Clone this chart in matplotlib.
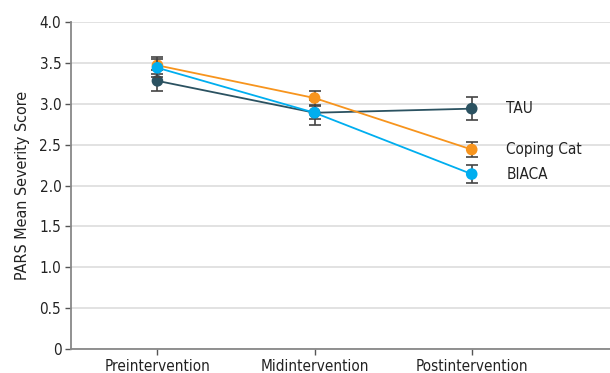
import matplotlib.pyplot as plt

# Data
timepoints = ['Preintervention', 'Midintervention', 'Postintervention']
groups = ['TAU', 'Coping Cat', 'BIACA']
tau_mean = [3.28, 2.89, 2.94]
tau_err = [0.13, 0.15, 0.14]
coping_mean = [3.47, 3.07, 2.44]
coping_err = [0.10, 0.09, 0.09]
biaca_mean = [3.44, 2.89, 2.14]
biaca_err = [0.11, 0.08, 0.11]

colors = {'TAU': '#2b5261', 'Coping Cat': '#f7941d', 'BIACA': '#00aeef'}

plt.rcParams['font.family'] = ['DejaVu Sans']
plt.rcParams['font.stretch'] = 'condensed'

fig = plt.figure(figsize=(6.10, 3.73), dpi=100)
ax = fig.add_axes([0.1164, 0.0643, 0.8836, 0.8767])

x = list(range(len(timepoints)))
series = [('TAU', tau_mean, tau_err), ('Coping Cat', coping_mean, coping_err),
          ('BIACA', biaca_mean, biaca_err)]
for z, (name, mean, err) in enumerate(series):
    ax.plot(x, mean, color=colors[name], lw=1.3, zorder=3 + z)
    ax.errorbar(x, mean, yerr=err, fmt='none', ecolor='#444444', elinewidth=1.2,
                capsize=4, capthick=1.2, zorder=3 + z)
    ax.scatter(x, mean, s=70, color=colors[name], zorder=4 + z, edgecolors='none')
    ax.text(x[-1] + 0.22, mean[-1], name, va='center', ha='left', fontsize=11,
            color='#222222')

ax.set_xlim(-0.55, 2.88)
ax.set_ylim(0, 4)
ax.set_yticks([0, 0.5, 1.0, 1.5, 2.0, 2.5, 3.0, 3.5, 4.0])
ax.set_yticklabels(['0', '0.5', '1.0', '1.5', '2.0', '2.5', '3.0', '3.5', '4.0'])
ax.set_xticks(x)
ax.set_xticklabels(timepoints)
ax.set_ylabel('PARS Mean Severity Score', fontsize=11.5, color='#222222', labelpad=7)

ax.grid(axis='y', color='#dddddd', lw=1.2)
ax.set_axisbelow(True)
for s in ['top', 'right']:
    ax.spines[s].set_visible(False)
for s in ['left', 'bottom']:
    ax.spines[s].set_color('#888888')
    ax.spines[s].set_linewidth(1.3)
ax.tick_params(axis='both', colors='#555555', labelcolor='#222222', labelsize=11,
               length=4, width=1, pad=3)

fig.savefig('out.png', dpi=100)
